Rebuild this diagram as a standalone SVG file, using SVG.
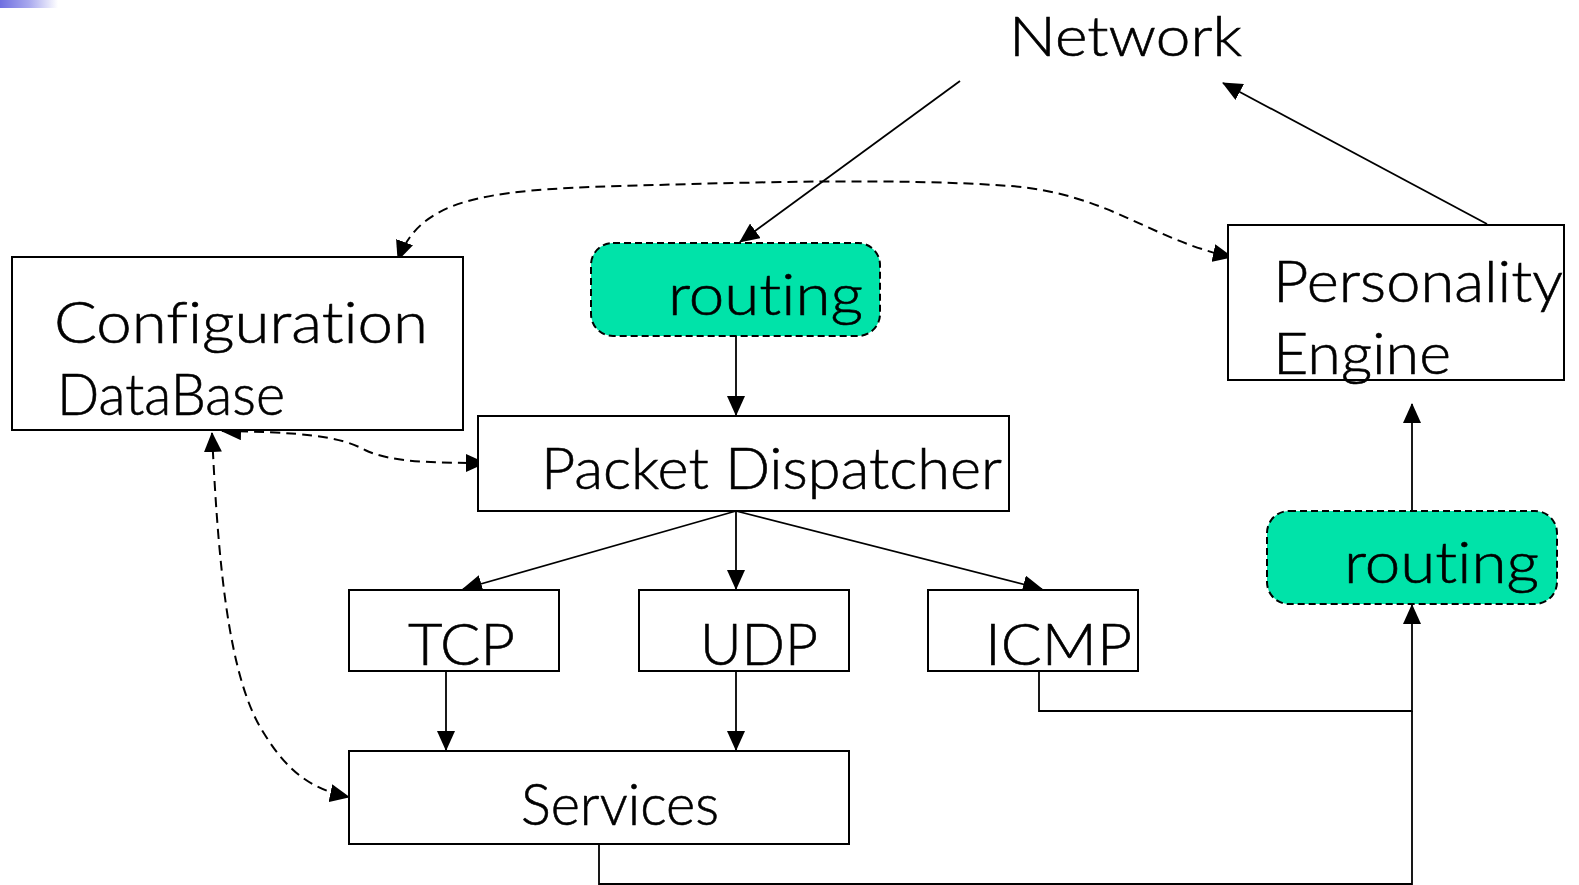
<svg xmlns="http://www.w3.org/2000/svg" width="1579" height="885" viewBox="0 0 1579 885">
  <style>
    .box { fill: #ffffff; stroke: #000000; stroke-width: 2; }
    .route { fill: #00e3a9; stroke: #000000; stroke-width: 2; stroke-dasharray: 7 4; }
    .lbl { font-family: "Lato", "Open Sans", sans-serif; font-weight: 300; font-variant-ligatures: none; fill: #000000; stroke: #000000; stroke-width: 0.6; }
    .wire { fill: none; stroke: #000000; stroke-width: 1.8; }
    .dash { fill: none; stroke: #000000; stroke-width: 2; stroke-dasharray: 10 6; }
  </style>
  <defs>
    <marker id="arrow" viewBox="0 0 20 18" refX="19" refY="9" markerWidth="20" markerHeight="18" markerUnits="userSpaceOnUse" orient="auto-start-reverse">
      <path d="M0,0 L20,9 L0,18 z" fill="#000000"/>
    </marker>
    <linearGradient id="band" x1="0" y1="0" x2="1" y2="0">
      <stop offset="0" stop-color="#6f6fe0"/>
      <stop offset="0.5" stop-color="#a9a9ee"/>
      <stop offset="1" stop-color="#ffffff"/>
    </linearGradient>
  </defs>

  <rect x="0" y="0" width="58" height="8" fill="url(#band)"/>

  <!-- connectors -->
  <g id="connectors">
    <line class="wire" x1="960" y1="81" x2="740" y2="242" marker-end="url(#arrow)"/>
    <line class="wire" x1="1487" y1="224" x2="1223" y2="83" marker-end="url(#arrow)"/>
    <line class="wire" x1="736" y1="335" x2="736" y2="415" marker-end="url(#arrow)"/>
    <line class="wire" x1="736" y1="511" x2="463" y2="589" marker-end="url(#arrow)"/>
    <line class="wire" x1="736" y1="511" x2="736" y2="589" marker-end="url(#arrow)"/>
    <line class="wire" x1="736" y1="511" x2="1042" y2="589" marker-end="url(#arrow)"/>
    <line class="wire" x1="446" y1="671" x2="446" y2="750" marker-end="url(#arrow)"/>
    <line class="wire" x1="736" y1="671" x2="736" y2="750" marker-end="url(#arrow)"/>
    <polyline class="wire" points="1039,671 1039,711 1412,711 1412,605" marker-end="url(#arrow)"/>
    <polyline class="wire" points="599,844 599,884 1412,884 1412,711"/>
    <line class="wire" x1="1412" y1="511" x2="1412" y2="404" marker-end="url(#arrow)"/>
    <path class="dash" d="M398,260 C420,200 480,190 620,186 C760,182 900,178 1010,186 C1110,194 1150,240 1232,257" marker-start="url(#arrow)" marker-end="url(#arrow)"/>
    <path class="dash" d="M222,431 C300,432 340,436 365,450 C390,462 430,463 485,463" marker-start="url(#arrow)" marker-end="url(#arrow)"/>
    <path class="dash" d="M212,433 C218,560 228,680 265,735 C290,775 315,790 349,797" marker-start="url(#arrow)" marker-end="url(#arrow)"/>
  </g>

  <g id="network">
    <text class="lbl" x="1009" y="56" font-size="56" textLength="233" lengthAdjust="spacingAndGlyphs">Network</text>
  </g>

  <g id="config-db">
    <rect class="box" x="12" y="257" width="451" height="173"/>
    <text class="lbl" x="54" y="343" font-size="58" textLength="374" lengthAdjust="spacingAndGlyphs">Configuration</text>
    <text class="lbl" x="57" y="415" font-size="58" textLength="228" lengthAdjust="spacingAndGlyphs">DataBase</text>
  </g>

  <g id="routing-in">
    <rect class="route" x="591" y="243" width="289" height="93" rx="22" ry="22"/>
    <text class="lbl" x="668" y="315" font-size="58" textLength="195" lengthAdjust="spacingAndGlyphs">routing</text>
  </g>

  <g id="packet-dispatcher">
    <rect class="box" x="478" y="416" width="531" height="95"/>
    <text class="lbl" x="541" y="489" font-size="58" textLength="461" lengthAdjust="spacingAndGlyphs">Packet Dispatcher</text>
  </g>

  <g id="tcp">
    <rect class="box" x="349" y="590" width="210" height="81"/>
    <text class="lbl" x="408" y="665" font-size="58" textLength="107" lengthAdjust="spacingAndGlyphs">TCP</text>
  </g>

  <g id="udp">
    <rect class="box" x="639" y="590" width="210" height="81"/>
    <text class="lbl" x="700" y="665" font-size="58" textLength="118" lengthAdjust="spacingAndGlyphs">UDP</text>
  </g>

  <g id="icmp">
    <rect class="box" x="928" y="590" width="210" height="81"/>
    <text class="lbl" x="985" y="665" font-size="58" textLength="147" lengthAdjust="spacingAndGlyphs">ICMP</text>
  </g>

  <g id="services">
    <rect class="box" x="349" y="751" width="500" height="93"/>
    <text class="lbl" x="521" y="825" font-size="58" textLength="198" lengthAdjust="spacingAndGlyphs">Services</text>
  </g>

  <g id="personality-engine">
    <rect class="box" x="1228" y="225" width="336" height="155"/>
    <text class="lbl" x="1273" y="302" font-size="58" textLength="290" lengthAdjust="spacingAndGlyphs">Personality</text>
    <text class="lbl" x="1273" y="374" font-size="58" textLength="178" lengthAdjust="spacingAndGlyphs">Engine</text>
  </g>

  <g id="routing-out">
    <rect class="route" x="1267" y="511" width="290" height="93" rx="22" ry="22"/>
    <text class="lbl" x="1344" y="583" font-size="58" textLength="195" lengthAdjust="spacingAndGlyphs">routing</text>
  </g>
</svg>
